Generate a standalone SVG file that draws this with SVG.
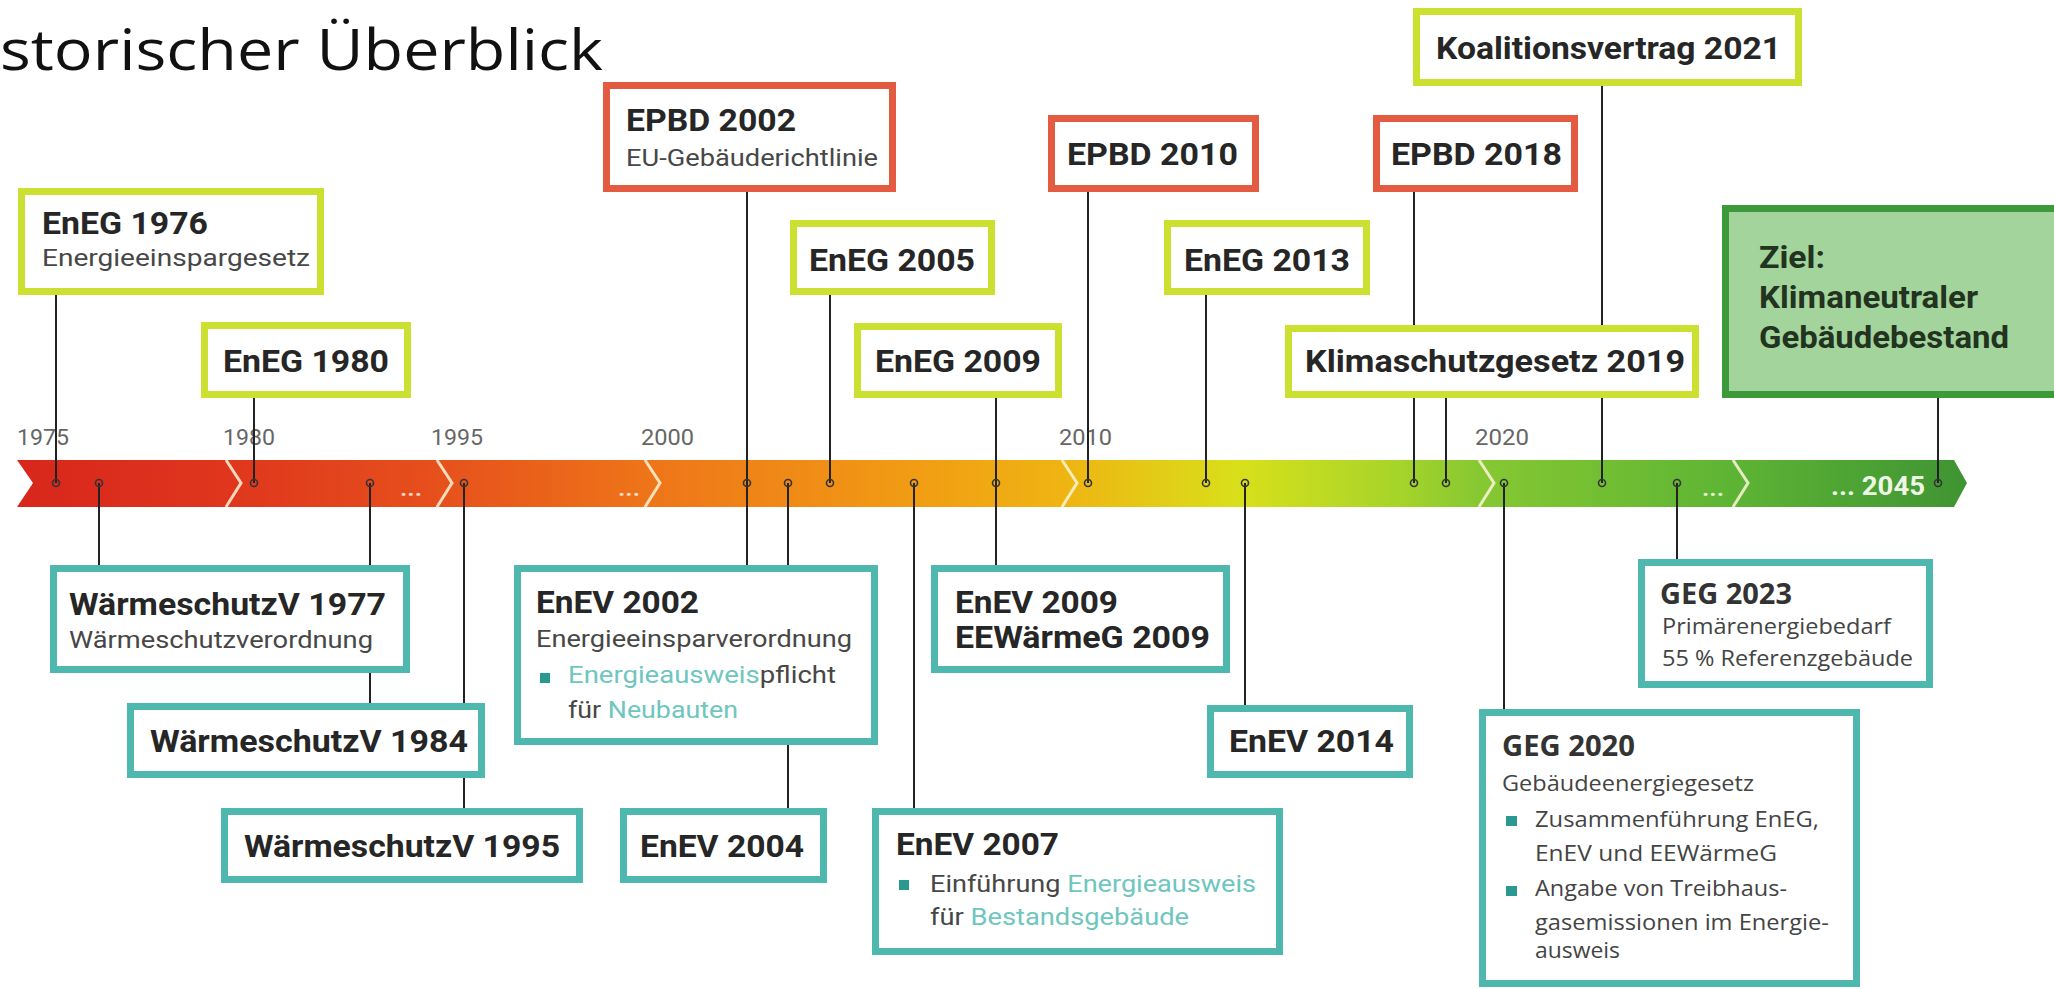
<svg xmlns="http://www.w3.org/2000/svg" width="2054" height="989" viewBox="0 0 2054 989">
<defs>
<style>
.b{font-family:Roboto,"Liberation Sans",sans-serif;font-weight:700;font-size:31.5px;fill:#262626}
.r{font-family:Roboto,"Liberation Sans",sans-serif;font-weight:400;font-size:23px;fill:#474747}
.yr{font-family:Roboto,"Liberation Sans",sans-serif;font-weight:400;font-size:22px;fill:#666}
.gb{font-family:"Open Sans","Liberation Sans",sans-serif;font-weight:700;font-size:28px;fill:#333}
.gr{font-family:"Open Sans","Liberation Sans",sans-serif;font-weight:400;font-size:21px;fill:#444}
.hl{fill:#6ec6be}
.lime{fill:#fff;stroke:#cbe030;stroke-width:7}
.red{fill:#fff;stroke:#e35c41;stroke-width:7}
.teal{fill:#fff;stroke:#4fb8ae;stroke-width:7}
.c{stroke:#222;stroke-width:2}
.dot{fill:none;stroke:#333;stroke-width:1.6}
.chev{fill:none;stroke:#fff4d8;stroke-width:3;opacity:0.85}
.bul{fill:#2a9a90}
.dots{font-family:Roboto,"Liberation Sans",sans-serif;font-weight:700;font-size:22px}
</style>
<linearGradient id="bar" gradientUnits="userSpaceOnUse" x1="17" y1="0" x2="1967" y2="0">
<stop offset="0" stop-color="#d8261c"/>
<stop offset="0.107" stop-color="#df361d"/>
<stop offset="0.215" stop-color="#e6501c"/>
<stop offset="0.322" stop-color="#ee7419"/>
<stop offset="0.453" stop-color="#f19a14"/>
<stop offset="0.536" stop-color="#efb412"/>
<stop offset="0.627" stop-color="#d8e01a"/>
<stop offset="0.709" stop-color="#a6d42a"/>
<stop offset="0.750" stop-color="#86c832"/>
<stop offset="0.880" stop-color="#5db434"/>
<stop offset="1" stop-color="#3f9433"/>
</linearGradient>
</defs>
<rect width="2054" height="989" fill="#fff"/>
<text x="0" y="70" font-family="'Open Sans','Liberation Sans',sans-serif" font-size="57" fill="#111" textLength="603" lengthAdjust="spacingAndGlyphs">storischer Überblick</text>

<g id="timeline">
<polygon points="17,460 1954,460 1967,483 1954,507 17,507 33,483" fill="url(#bar)"/>
<polyline class="chev" points="226,460 241,483 226,507"/>
<polyline class="chev" points="437,460 452,483 437,507"/>
<polyline class="chev" points="645,460 660,483 645,507"/>
<polyline class="chev" points="1062,460 1077,483 1062,507"/>
<polyline class="chev" points="1479,460 1494,483 1479,507"/>
<polyline class="chev" points="1733,460 1748,483 1733,507"/>
<text class="dots" x="400" y="496" fill="#f6cfc0" textLength="22" lengthAdjust="spacingAndGlyphs">...</text>
<text class="dots" x="618" y="496" fill="#f8d8c0" textLength="22" lengthAdjust="spacingAndGlyphs">...</text>
<text class="dots" x="1702" y="496" fill="#dff0cc" textLength="22" lengthAdjust="spacingAndGlyphs">...</text>
<text x="1831" y="495" font-family="Roboto,'Liberation Sans',sans-serif" font-weight="700" font-size="25" fill="#eef7e6" textLength="94" lengthAdjust="spacingAndGlyphs">... 2045</text>
<text class="yr" x="17" y="445" textLength="52" lengthAdjust="spacingAndGlyphs">1975</text>
<text class="yr" x="223" y="445" textLength="52" lengthAdjust="spacingAndGlyphs">1980</text>
<text class="yr" x="431" y="445" textLength="52" lengthAdjust="spacingAndGlyphs">1995</text>
<text class="yr" x="641" y="445" textLength="53" lengthAdjust="spacingAndGlyphs">2000</text>
<text class="yr" x="1059" y="445" textLength="53" lengthAdjust="spacingAndGlyphs">2010</text>
<text class="yr" x="1475" y="445" textLength="54" lengthAdjust="spacingAndGlyphs">2020</text>
</g>

<g id="connectors">
<line class="c" x1="56" y1="295" x2="56" y2="483"/>
<line class="c" x1="254" y1="398" x2="254" y2="483"/>
<line class="c" x1="99" y1="483" x2="99" y2="565"/>
<line class="c" x1="370" y1="483" x2="370" y2="703"/>
<line class="c" x1="464" y1="483" x2="464" y2="808"/>
<line class="c" x1="747" y1="192" x2="747" y2="565"/>
<line class="c" x1="788" y1="483" x2="788" y2="808"/>
<line class="c" x1="830" y1="295" x2="830" y2="483"/>
<line class="c" x1="914" y1="483" x2="914" y2="808"/>
<line class="c" x1="996" y1="398" x2="996" y2="565"/>
<line class="c" x1="1088" y1="192" x2="1088" y2="483"/>
<line class="c" x1="1206" y1="295" x2="1206" y2="483"/>
<line class="c" x1="1245" y1="483" x2="1245" y2="705"/>
<line class="c" x1="1414" y1="192" x2="1414" y2="483"/>
<line class="c" x1="1446" y1="398" x2="1446" y2="483"/>
<line class="c" x1="1504" y1="483" x2="1504" y2="709"/>
<line class="c" x1="1602" y1="86" x2="1602" y2="483"/>
<line class="c" x1="1677" y1="483" x2="1677" y2="559"/>
<line class="c" x1="1938" y1="398" x2="1938" y2="483"/>
<g id="dots">
<circle class="dot" cx="56" cy="483" r="3.5"/>
<circle class="dot" cx="99" cy="483" r="3.5"/>
<circle class="dot" cx="254" cy="483" r="3.5"/>
<circle class="dot" cx="370" cy="483" r="3.5"/>
<circle class="dot" cx="464" cy="483" r="3.5"/>
<circle class="dot" cx="747" cy="483" r="3.5"/>
<circle class="dot" cx="788" cy="483" r="3.5"/>
<circle class="dot" cx="830" cy="483" r="3.5"/>
<circle class="dot" cx="914" cy="483" r="3.5"/>
<circle class="dot" cx="996" cy="483" r="3.5"/>
<circle class="dot" cx="1088" cy="483" r="3.5"/>
<circle class="dot" cx="1206" cy="483" r="3.5"/>
<circle class="dot" cx="1245" cy="483" r="3.5"/>
<circle class="dot" cx="1414" cy="483" r="3.5"/>
<circle class="dot" cx="1446" cy="483" r="3.5"/>
<circle class="dot" cx="1504" cy="483" r="3.5"/>
<circle class="dot" cx="1602" cy="483" r="3.5"/>
<circle class="dot" cx="1677" cy="483" r="3.5"/>
<circle class="dot" cx="1938" cy="483" r="3.5"/>
</g>
</g>

<g id="eneg1976">
<rect class="lime" x="21.5" y="191.5" width="299" height="100"/>
<text class="b" x="42" y="234" textLength="166" lengthAdjust="spacingAndGlyphs">EnEG 1976</text>
<text class="r" x="42" y="266" textLength="268" lengthAdjust="spacingAndGlyphs">Energieeinspargesetz</text>
</g>
<g id="eneg1980">
<rect class="lime" x="204.5" y="325.5" width="203" height="69"/>
<text class="b" x="223" y="372" textLength="166" lengthAdjust="spacingAndGlyphs">EnEG 1980</text>
</g>
<g id="epbd2002">
<rect class="red" x="606.5" y="85.5" width="286" height="103"/>
<text class="b" x="626" y="131" textLength="170" lengthAdjust="spacingAndGlyphs">EPBD 2002</text>
<text class="r" x="626" y="166" textLength="252" lengthAdjust="spacingAndGlyphs">EU-Gebäuderichtlinie</text>
</g>
<g id="eneg2005">
<rect class="lime" x="793.5" y="223.5" width="198" height="68"/>
<text class="b" x="809" y="271" textLength="166" lengthAdjust="spacingAndGlyphs">EnEG 2005</text>
</g>
<g id="eneg2009">
<rect class="lime" x="857.5" y="326.5" width="201" height="68"/>
<text class="b" x="875" y="372" textLength="166" lengthAdjust="spacingAndGlyphs">EnEG 2009</text>
</g>
<g id="epbd2010">
<rect class="red" x="1051.5" y="118.5" width="204" height="70"/>
<text class="b" x="1067" y="165" textLength="171" lengthAdjust="spacingAndGlyphs">EPBD 2010</text>
</g>
<g id="eneg2013">
<rect class="lime" x="1167.5" y="223.5" width="199" height="68"/>
<text class="b" x="1184" y="271" textLength="166" lengthAdjust="spacingAndGlyphs">EnEG 2013</text>
</g>
<g id="epbd2018">
<rect class="red" x="1376.5" y="118.5" width="198" height="70"/>
<text class="b" x="1391" y="165" textLength="171" lengthAdjust="spacingAndGlyphs">EPBD 2018</text>
</g>
<g id="koalition2021">
<rect class="lime" x="1416.5" y="11.5" width="382" height="71"/>
<text class="b" x="1436" y="59" textLength="345" lengthAdjust="spacingAndGlyphs">Koalitionsvertrag 2021</text>
</g>
<g id="klimaschutz2019">
<rect class="lime" x="1288.5" y="328.5" width="407" height="66"/>
<text class="b" x="1305" y="372" textLength="380" lengthAdjust="spacingAndGlyphs">Klimaschutzgesetz 2019</text>
</g>
<g id="ziel">
<rect x="1725.5" y="208.5" width="340" height="186" fill="#a2d49b" stroke="#3c9a3a" stroke-width="7"/>
<text class="b" x="1759" y="268" style="fill:#22331f" textLength="66" lengthAdjust="spacingAndGlyphs">Ziel:</text>
<text class="b" x="1759" y="308" style="fill:#22331f" textLength="219" lengthAdjust="spacingAndGlyphs">Klimaneutraler</text>
<text class="b" x="1759" y="348" style="fill:#22331f" textLength="250" lengthAdjust="spacingAndGlyphs">Gebäudebestand</text>
</g>

<g id="wsv1977">
<rect class="teal" x="53.5" y="568.5" width="353" height="101"/>
<text class="b" x="69" y="615" textLength="317" lengthAdjust="spacingAndGlyphs">WärmeschutzV 1977</text>
<text class="r" x="69" y="648" textLength="304" lengthAdjust="spacingAndGlyphs">Wärmeschutzverordnung</text>
</g>
<g id="wsv1984">
<rect class="teal" x="130.5" y="706.5" width="351" height="68"/>
<text class="b" x="150" y="752" textLength="318" lengthAdjust="spacingAndGlyphs">WärmeschutzV 1984</text>
</g>
<g id="wsv1995">
<rect class="teal" x="224.5" y="811.5" width="355" height="68"/>
<text class="b" x="244" y="857" textLength="316" lengthAdjust="spacingAndGlyphs">WärmeschutzV 1995</text>
</g>
<g id="enev2002">
<rect class="teal" x="517.5" y="568.5" width="357" height="173"/>
<text class="b" x="536" y="613" textLength="163" lengthAdjust="spacingAndGlyphs">EnEV 2002</text>
<text class="r" x="536" y="647" textLength="316" lengthAdjust="spacingAndGlyphs">Energieeinsparverordnung</text>
<rect class="bul" x="540" y="673" width="10" height="10"/>
<text class="r" x="568" y="683" textLength="268" lengthAdjust="spacingAndGlyphs"><tspan class="hl">Energieausweis</tspan>pflicht</text>
<text class="r" x="568" y="718" textLength="170" lengthAdjust="spacingAndGlyphs">für <tspan class="hl">Neubauten</tspan></text>
</g>
<g id="enev2004">
<rect class="teal" x="623.5" y="811.5" width="200" height="68"/>
<text class="b" x="640" y="857" textLength="164" lengthAdjust="spacingAndGlyphs">EnEV 2004</text>
</g>
<g id="enev2007">
<rect class="teal" x="875.5" y="811.5" width="404" height="140"/>
<text class="b" x="896" y="855" textLength="163" lengthAdjust="spacingAndGlyphs">EnEV 2007</text>
<rect class="bul" x="899" y="880" width="10" height="10"/>
<text class="r" x="930" y="892" textLength="326" lengthAdjust="spacingAndGlyphs">Einführung <tspan class="hl">Energieausweis</tspan></text>
<text class="r" x="930" y="925" textLength="259" lengthAdjust="spacingAndGlyphs">für <tspan class="hl">Bestandsgebäude</tspan></text>
</g>
<g id="enev2009">
<rect class="teal" x="934.5" y="568.5" width="292" height="101"/>
<text class="b" x="955" y="613" textLength="163" lengthAdjust="spacingAndGlyphs">EnEV 2009</text>
<text class="b" x="955" y="648" textLength="255" lengthAdjust="spacingAndGlyphs">EEWärmeG 2009</text>
</g>
<g id="enev2014">
<rect class="teal" x="1210.5" y="708.5" width="199" height="66"/>
<text class="b" x="1229" y="752" textLength="165" lengthAdjust="spacingAndGlyphs">EnEV 2014</text>
</g>
<g id="geg2023">
<rect class="teal" x="1641.5" y="562.5" width="288" height="122"/>
<text class="gb" x="1660" y="604" textLength="132" lengthAdjust="spacingAndGlyphs">GEG 2023</text>
<text class="gr" x="1662" y="634" textLength="229" lengthAdjust="spacingAndGlyphs">Primärenergiebedarf</text>
<text class="gr" x="1662" y="666" textLength="251" lengthAdjust="spacingAndGlyphs">55 % Referenzgebäude</text>
</g>
<g id="geg2020">
<rect class="teal" x="1482.5" y="712.5" width="374" height="271"/>
<text class="gb" x="1502" y="756" textLength="133" lengthAdjust="spacingAndGlyphs">GEG 2020</text>
<text class="gr" x="1502" y="791" textLength="252" lengthAdjust="spacingAndGlyphs">Gebäudeenergiegesetz</text>
<rect class="bul" x="1506" y="816" width="11" height="10"/>
<text class="gr" x="1535" y="827" textLength="284" lengthAdjust="spacingAndGlyphs">Zusammenführung EnEG,</text>
<text class="gr" x="1535" y="861" textLength="242" lengthAdjust="spacingAndGlyphs">EnEV und EEWärmeG</text>
<rect class="bul" x="1506" y="886" width="11" height="10"/>
<text class="gr" x="1535" y="896" textLength="252" lengthAdjust="spacingAndGlyphs">Angabe von Treibhaus-</text>
<text class="gr" x="1535" y="930" textLength="294" lengthAdjust="spacingAndGlyphs">gasemissionen im Energie-</text>
<text class="gr" x="1535" y="958" textLength="85" lengthAdjust="spacingAndGlyphs">ausweis</text>
</g>
</svg>
